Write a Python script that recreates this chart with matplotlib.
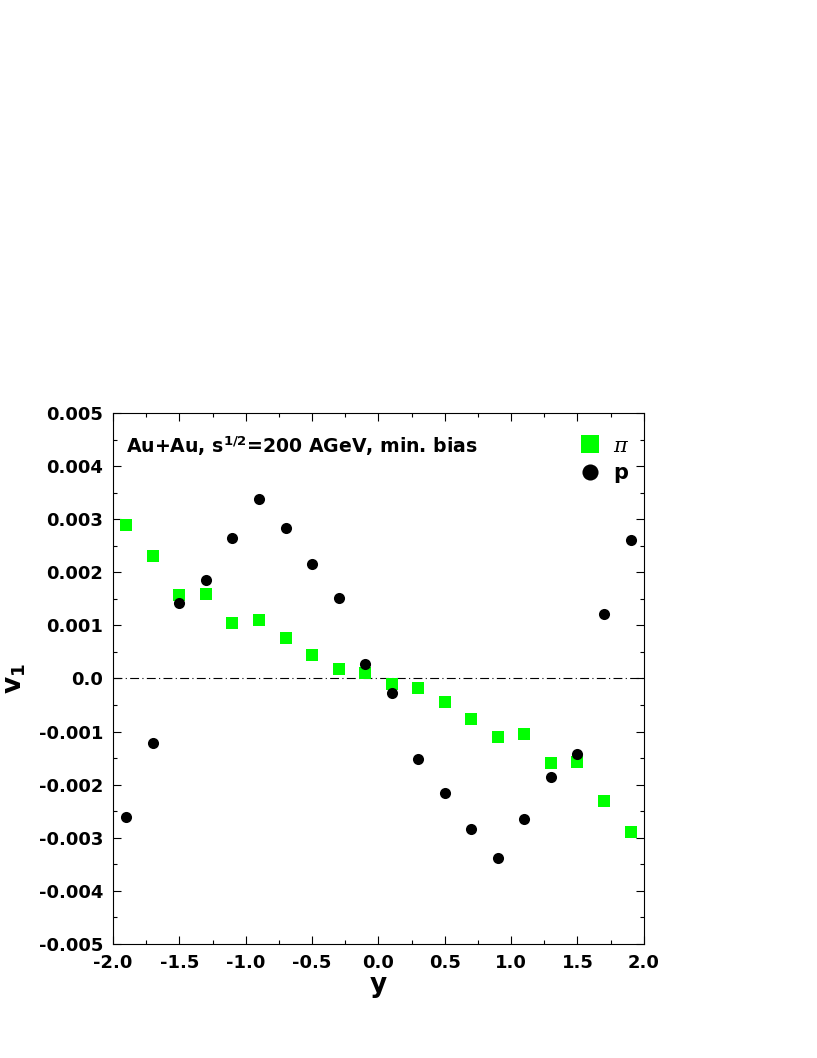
import numpy as np
import matplotlib
matplotlib.use('Agg')
import matplotlib.pyplot as plt
from matplotlib.ticker import MultipleLocator, FormatStrFormatter

plt.rcParams['font.family'] = ['DejaVu Sans']
plt.rcParams['font.weight'] = 'bold'
plt.rcParams['mathtext.fontset'] = 'custom'
plt.rcParams['mathtext.rm'] = 'DejaVu Sans:bold'
plt.rcParams['mathtext.bf'] = 'DejaVu Sans:bold'
plt.rcParams['mathtext.it'] = 'DejaVu Serif:italic:normal'

# rapidity bins
y_vals = [-1.9, -1.7, -1.5, -1.3, -1.1, -0.9, -0.7, -0.5, -0.3, -0.1,
          0.1, 0.3, 0.5, 0.7, 0.9, 1.1, 1.3, 1.5, 1.7, 1.9]

# v1 of pions
v1_pi = [0.00289, 0.00231, 0.00157, 0.00159, 0.00104, 0.00110, 0.00077, 0.00045, 0.00017, 0.00011,
         -0.00011, -0.00017, -0.00045, -0.00077, -0.00110, -0.00104, -0.00159, -0.00157, -0.00231, -0.00289]

# v1 of protons
v1_p = [-0.00260, -0.00121, 0.00143, 0.00186, 0.00264, 0.00338, 0.00284, 0.00215, 0.00152, 0.00028,
        -0.00028, -0.00152, -0.00215, -0.00284, -0.00338, -0.00264, -0.00186, -0.00143, 0.00121, 0.00260]

fig = plt.figure(figsize=(8.17, 10.58), dpi=100)
ax = fig.add_axes([0.1383, 0.1078, 0.6497, 0.5018])

ax.axhline(0, color='black', lw=0.8, ls='-.', dashes=(8, 3, 1, 3))
ax.plot(y_vals, v1_pi, 's', color='#00ff00', markersize=8.5, markeredgewidth=0, label=r'$\pi$')
ax.plot(y_vals, v1_p, 'o', color='black', markersize=8, markeredgewidth=0, label='p')

ax.set_xlim(-2, 2)
ax.set_ylim(-0.005, 0.005)
ax.xaxis.set_major_locator(MultipleLocator(0.5))
ax.xaxis.set_minor_locator(MultipleLocator(0.25))
ax.yaxis.set_major_locator(MultipleLocator(0.001))
ax.yaxis.set_minor_locator(MultipleLocator(0.0005))
ax.xaxis.set_major_formatter(FormatStrFormatter('%.1f'))

def ylab(v, pos):
    if abs(v) < 1e-9:
        return '0.0'
    return '%.3f' % v
ax.yaxis.set_major_formatter(plt.FuncFormatter(ylab))

ax.tick_params(which='both', direction='in', top=True, right=True, width=0.8)
ax.tick_params(which='major', length=6, labelsize=13, pad=7)
ax.tick_params(which='minor', length=3)
for sp in ax.spines.values():
    sp.set_linewidth(0.8)

ax.set_xlabel('y', fontsize=19, fontweight='bold', labelpad=0)
ax.set_ylabel(r'v$_\mathbf{1}$', fontsize=19, fontweight='bold', labelpad=8)

ax.text(0.025, 0.938, r'Au+Au, s$^{\mathbf{1/2}}$=200 AGeV, min. bias',
        transform=ax.transAxes, fontsize=13.6, fontweight='bold', va='center', ha='left')

leg = ax.legend(loc='upper right', bbox_to_anchor=(1.0, 0.985), frameon=False, fontsize=15,
                handlelength=1.0, handletextpad=0.6, borderaxespad=0.3, labelspacing=0.35,
                markerscale=1.45)

fig.savefig('out.png', dpi=100)
